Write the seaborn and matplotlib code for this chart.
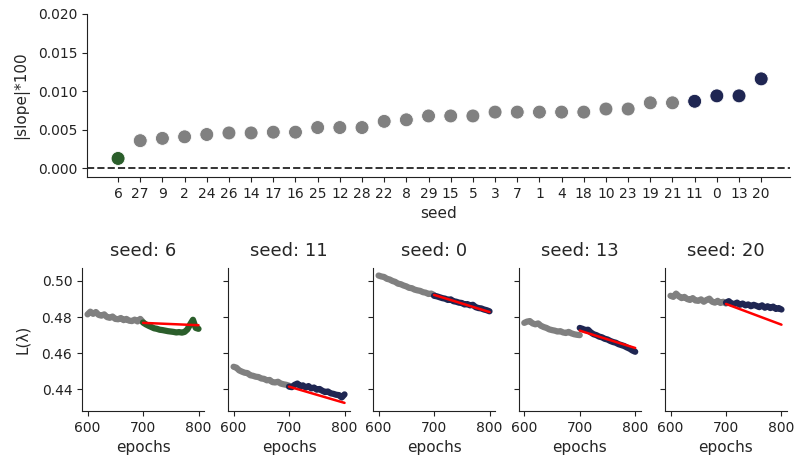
import numpy as np
import pandas as pd
import seaborn as sns
import matplotlib
matplotlib.use("Agg")
import matplotlib.pyplot as plt

# seeds sorted by |slope|, with the slope values (x100)
seeds = [6, 27, 9, 2, 24, 26, 14, 17, 16, 25, 12, 28, 22, 8, 29,
         15, 5, 3, 7, 1, 4, 18, 10, 23, 19, 21, 11, 0, 13, 20]
slopes = [0.0013, 0.0036, 0.0039, 0.0041, 0.0044, 0.0046, 0.0046, 0.0047, 0.0047, 0.0053,
          0.0053, 0.0053, 0.0061, 0.0063, 0.0068, 0.0068, 0.0068, 0.0073, 0.0073, 0.0073,
          0.0073, 0.0073, 0.0077, 0.0077, 0.0085, 0.0085, 0.0087, 0.0094, 0.0094, 0.0116]
groups = ['low'] + ['mid'] * 25 + ['high'] * 4

# loss curves, one value every 5 epochs
ep_before = list(range(600, 701, 5))
ep_after = list(range(700, 801, 5))
shown = [6, 11, 0, 13, 20]

before = {
    6: [0.4815, 0.4830, 0.4818, 0.4828, 0.4812, 0.4808, 0.4815, 0.4800, 0.4796, 0.4803, 0.4790,
        0.4788, 0.4795, 0.4783, 0.4790, 0.4780, 0.4778, 0.4786, 0.4776, 0.4790, 0.4772],
    11: [0.4525, 0.4520, 0.4505, 0.4498, 0.4492, 0.4490, 0.4478, 0.4475, 0.4470, 0.4468, 0.4460,
         0.4458, 0.4450, 0.4452, 0.4440, 0.4438, 0.4442, 0.4432, 0.4428, 0.4425, 0.4420],
    0: [0.5030, 0.5025, 0.5022, 0.5012, 0.5008, 0.5000, 0.4995, 0.4985, 0.4982, 0.4975, 0.4970,
        0.4962, 0.4960, 0.4952, 0.4948, 0.4945, 0.4938, 0.4935, 0.4928, 0.4930, 0.4922],
    13: [0.4768, 0.4775, 0.4778, 0.4765, 0.4760, 0.4765, 0.4752, 0.4745, 0.4740, 0.4732, 0.4728,
         0.4725, 0.4720, 0.4722, 0.4715, 0.4712, 0.4718, 0.4710, 0.4705, 0.4702, 0.4700],
    20: [0.4918, 0.4912, 0.4930, 0.4915, 0.4905, 0.4912, 0.4900, 0.4895, 0.4905, 0.4892, 0.4890,
         0.4898, 0.4885, 0.4895, 0.4902, 0.4885, 0.4880, 0.4890, 0.4878, 0.4885, 0.4875],
}
after = {
    6: [0.4770, 0.4760, 0.4752, 0.4745, 0.4738, 0.4735, 0.4730, 0.4728, 0.4725, 0.4722, 0.4720,
        0.4718, 0.4715, 0.4717, 0.4714, 0.4718, 0.4732, 0.4760, 0.4785, 0.4740, 0.4735],
    11: [0.4415, 0.4412, 0.4425, 0.4432, 0.4418, 0.4422, 0.4410, 0.4418, 0.4405, 0.4410, 0.4398,
         0.4402, 0.4392, 0.4385, 0.4388, 0.4378, 0.4375, 0.4370, 0.4368, 0.4355, 0.4372],
    0: [0.4918, 0.4915, 0.4910, 0.4905, 0.4902, 0.4895, 0.4898, 0.4888, 0.4885, 0.4880, 0.4878,
        0.4870, 0.4872, 0.4865, 0.4868, 0.4855, 0.4850, 0.4848, 0.4842, 0.4838, 0.4832],
    13: [0.4740, 0.4735, 0.4728, 0.4730, 0.4715, 0.4705, 0.4700, 0.4692, 0.4688, 0.4680, 0.4676,
         0.4668, 0.4662, 0.4658, 0.4650, 0.4645, 0.4640, 0.4632, 0.4625, 0.4615, 0.4608],
    20: [0.4880, 0.4888, 0.4875, 0.4872, 0.4880, 0.4868, 0.4875, 0.4865, 0.4870, 0.4860, 0.4868,
         0.4862, 0.4855, 0.4865, 0.4852, 0.4860, 0.4850, 0.4858, 0.4845, 0.4850, 0.4842],
}
# fitted line end points at epochs 700 and 800
fit_x = [700, 800]
fit_y = {6: [0.4768, 0.4755], 11: [0.4415, 0.4325], 0: [0.4923, 0.4828],
         13: [0.4725, 0.4629], 20: [0.4873, 0.4758]}

grey = '#808080'
green = '#2b5e2b'
navy = '#1f2652'
palette = {'low': green, 'mid': grey, 'high': navy}
seed_color = {6: green, 11: navy, 0: navy, 13: navy, 20: navy}

sns.set_style('ticks')
plt.rcParams['font.family'] = ['DejaVu Sans']
plt.rcParams['xtick.labelsize'] = 10
plt.rcParams['ytick.labelsize'] = 10
plt.rcParams['axes.labelsize'] = 11
plt.rcParams['axes.titlesize'] = 13
plt.rcParams['axes.edgecolor'] = '#222222'
plt.rcParams['xtick.color'] = '#222222'
plt.rcParams['ytick.color'] = '#222222'

fig = plt.figure(figsize=(7.94, 4.66), dpi=100)

# top: sorted slopes
ax = fig.add_axes([0.1096, 0.6202, 0.8854, 0.3498])
df = pd.DataFrame({'pos': np.arange(len(seeds)), 'slope': slopes, 'group': groups})
sns.scatterplot(data=df, x='pos', y='slope', hue='group', palette=palette,
                s=100, edgecolor='white', linewidth=0.6, legend=False, ax=ax, zorder=3)
ax.axhline(0, color='#333333', ls='--', lw=1.4)
ax.set_xticks(np.arange(len(seeds)))
ax.set_xticklabels([str(s) for s in seeds])
ax.set_xlim(-1.4, 30.3)
ax.set_ylim(-0.0011, 0.020)
ax.set_yticks([0.0, 0.005, 0.010, 0.015, 0.020])
ax.set_yticklabels(['0.000', '0.005', '0.010', '0.015', '0.020'])
ax.set_xlabel('seed')
ax.set_ylabel('|slope|*100', labelpad=6)
sns.despine(ax=ax)

# bottom: loss curves for selected seeds
lefts = [0.1033, 0.2872, 0.4698, 0.6533, 0.8375]
axes = []
for i, sd in enumerate(shown):
    a = fig.add_axes([lefts[i], 0.118, 0.1537, 0.3062], sharey=axes[0] if axes else None)
    axes.append(a)
    sns.lineplot(x=ep_before, y=before[sd], color=grey, lw=4.5, ax=a)
    sns.lineplot(x=ep_after, y=after[sd], color=seed_color[sd], lw=4.5, ax=a)
    sns.lineplot(x=fit_x, y=fit_y[sd], color='red', lw=1.8, ax=a)
    a.set_title(f'seed: {sd}', pad=9)
    a.set_xlabel('epochs')
    a.set_xticks([600, 700, 800])
    a.set_xlim(590, 810)
    if i == 0:
        a.set_ylabel('L(λ)', labelpad=8)
    else:
        a.set_ylabel('')
        plt.setp(a.get_yticklabels(), visible=False)
    sns.despine(ax=a)

axes[0].set_ylim(0.428, 0.507)
axes[0].set_yticks([0.44, 0.46, 0.48, 0.50])

fig.savefig('out.png', dpi=100)
